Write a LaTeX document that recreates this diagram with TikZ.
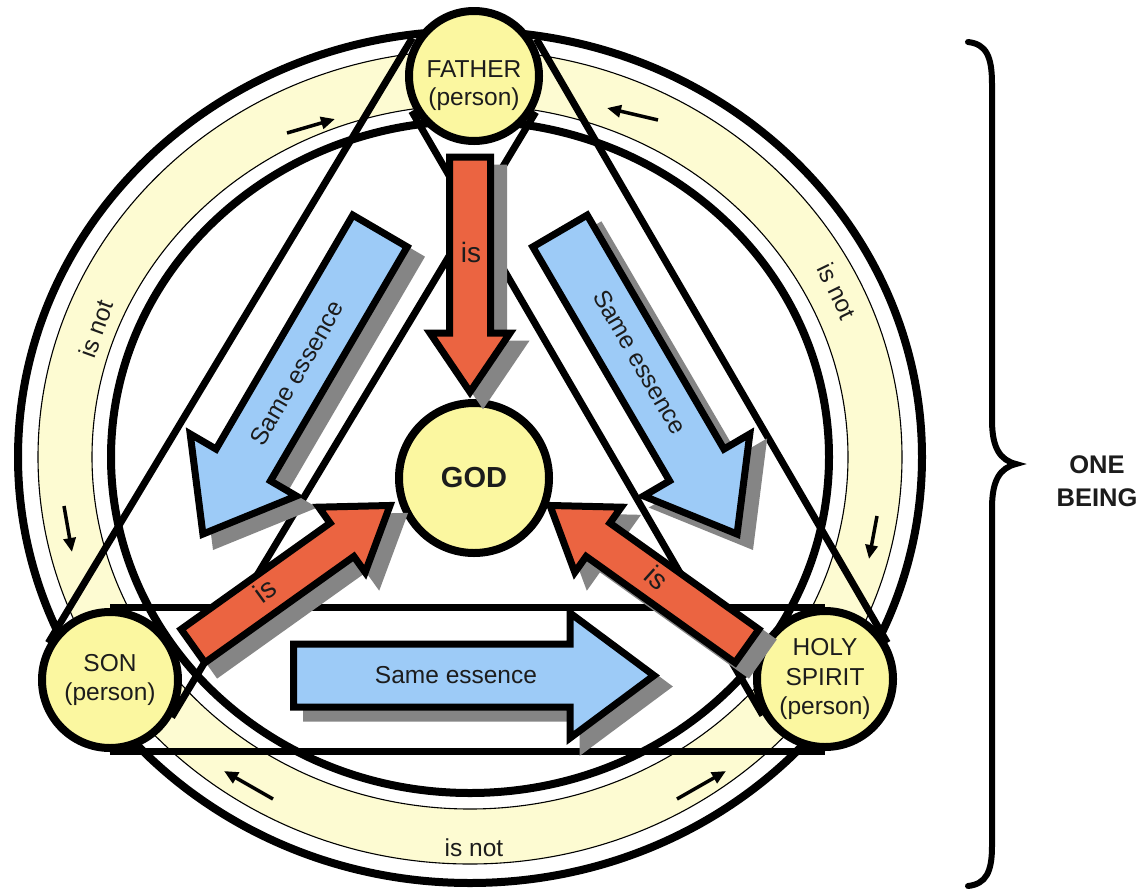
\documentclass[tikz,border=0pt]{standalone}
\usepackage{fontspec}
\setmainfont{Liberation Sans}
\usetikzlibrary{arrows.meta}
\definecolor{ringyellow}{HTML}{FDFBD2}
\definecolor{circyellow}{HTML}{FBF7A0}
\definecolor{redarrow}{HTML}{EB6441}
\definecolor{bluearrow}{HTML}{9DCBF7}
\definecolor{shadowgray}{HTML}{858585}
\definecolor{inktext}{HTML}{1C1C1C}

\newcommand{\fatarrow}[8]{%
 \begin{scope}[shift={(#1+13,#2+11)},rotate=#3]
   \filldraw[shadowgray, line width=7pt, line join=miter] (0,-#5) -- (#4-#7,-#5) -- (#4-#7,-#6) -- (#4,0) -- (#4-#7,#6) -- (#4-#7,#5) -- (0,#5) -- cycle;
 \end{scope}
 \begin{scope}[shift={(#1,#2)},rotate=#3]
   \filldraw[fill=#8, draw=black, line width=7pt, line join=miter] (0,-#5) -- (#4-#7,-#5) -- (#4-#7,-#6) -- (#4,0) -- (#4-#7,#6) -- (#4-#7,#5) -- (0,#5) -- cycle;
 \end{scope}}

\begin{document}
\begin{tikzpicture}[x=1pt,y=-1pt,
  thickring/.style={draw=black, line width=8pt},
  thinring/.style={draw=black, line width=1.1pt},
  beltline/.style={draw=black, line width=7pt},
  person/.style={circle, draw=black, line width=8pt, fill=circyellow, inner sep=0pt, align=center, text=inktext, font=\fontsize{24.5}{29.5}\selectfont},
  lbl/.style={inner sep=0pt, text=inktext, font=\fontsize{24.5}{28}\selectfont},
  islbl/.style={inner sep=0pt, text=inktext, font=\fontsize{28}{32}\selectfont},
  ringarrow/.style={line width=3.5pt, -{Triangle[length=14pt,width=12pt]}}
]
\useasboundingbox (0,0) rectangle (1140,892);
\fill[white] (0,0) rectangle (1140,892);

% ring
\coordinate (ctr) at (470,457);
\draw[thickring] (ctr) ellipse [x radius=452pt, y radius=426pt];
\filldraw[fill=ringyellow, thinring, even odd rule] (ctr) ellipse [x radius=432pt, y radius=407pt] (ctr) ellipse [x radius=378pt, y radius=352pt];
\draw[thickring] (ctr) ellipse [x radius=359pt, y radius=336pt];

% ring arrows
\coordinate (ra1s) at (287,133); \coordinate (ra1e) at (335,119);
\coordinate (ra2s) at (658,120); \coordinate (ra2e) at (607,108);
\coordinate (ra3s) at (64,506);  \coordinate (ra3e) at (72,552);
\coordinate (ra4s) at (877,516); \coordinate (ra4e) at (869,559);
\coordinate (ra5s) at (273,799); \coordinate (ra5e) at (224,771);
\coordinate (ra6s) at (677,799); \coordinate (ra6e) at (726,771);
\draw[ringarrow] (ra1s) -- (ra1e);
\draw[ringarrow] (ra2s) -- (ra2e);
\draw[ringarrow] (ra3s) -- (ra3e);
\draw[ringarrow] (ra4s) -- (ra4e);
\draw[ringarrow] (ra5s) -- (ra5e);
\draw[ringarrow] (ra6s) -- (ra6e);

\node[lbl, rotate=70] (isnotL) at (96,329) {is not};
\node[lbl, rotate=-64] (isnotR) at (837,291) {is not};
\node[lbl] (isnotB) at (474,848) {is not};

% triangle belt lines (tangent to the person circles)
\coordinate (fs1) at (412.3,37.9);  \coordinate (fs2) at (48.3,642.9);
\coordinate (fs3) at (535.7,112.1); \coordinate (fs4) at (171.7,717.1);
\coordinate (fh1) at (536.3,38.8);  \coordinate (fh2) at (887.3,642.8);
\coordinate (fh3) at (411.7,111.2); \coordinate (fh4) at (762.7,715.2);
\coordinate (sh1) at (110,607.5);   \coordinate (sh2) at (825,607.5);
\coordinate (sh3) at (110,751.5);   \coordinate (sh4) at (825,751.5);
\draw[beltline] (fs1) -- (fs2);
\draw[beltline] (fs3) -- (fs4);
\draw[beltline] (fh1) -- (fh2);
\draw[beltline] (fh3) -- (fh4);
\draw[beltline] (sh1) -- (sh2);
\draw[beltline] (sh3) -- (sh4);

% persons and God
\node[person, minimum size=130pt] (father) at (474,76) {};
\node[inner sep=0pt, align=center, text=inktext, font=\fontsize{24.5}{28}\selectfont] (ftext) at (474,86) {FATHER\\(person)};
\node[person, minimum size=136pt] (son) at (110,680) {SON\\(person)};
\node[person, minimum size=136pt] (spirit) at (825,679) {HOLY\\SPIRIT\\(person)};
\node[person, minimum size=150pt, font=\fontsize{29}{32}\selectfont\bfseries] (god) at (474,478) {GOD};

% blue arrows
\fatarrow{380}{231}{-120.3}{351}{31.5}{61.5}{80}{bluearrow}
\fatarrow{560}{231}{-59.7}{351}{31.5}{61.5}{80}{bluearrow}
\fatarrow{293.5}{675.5}{0}{360.5}{31.5}{62.5}{84}{bluearrow}
\node[lbl, rotate=60] (seL) at (297,373) {Same essence};
\node[lbl, rotate=-60] (seR) at (640,362) {Same essence};
\node[lbl] (seB) at (456,675) {Same essence};

% red arrows
\fatarrow{470}{157}{-90}{235}{20.5}{40}{59}{redarrow}
\fatarrow{193}{646}{35.5}{242}{20.5}{40}{59}{redarrow}
\fatarrow{747}{646}{144.5}{242}{20.5}{40}{59}{redarrow}
\node[islbl] (isF) at (471,252) {is};
\node[islbl, rotate=36] (isS) at (265,590) {is};
\node[islbl, rotate=-42] (isH) at (657,578) {is};

% brace
\draw[line width=6pt, line cap=round] (968,42) .. controls (986,44) and (992,56) .. (992,84) -- (992,420) .. controls (992,448) and (1000,460) .. (1016,464) .. controls (1000,468) and (992,480) .. (992,508) -- (992,846) .. controls (992,872) and (986,884) .. (968,886);
\node[inner sep=0pt, align=center, text=inktext, font=\fontsize{25.5}{33}\selectfont\bfseries] (onebeing) at (1097,481) {ONE\\BEING};
\end{tikzpicture}
\end{document}
